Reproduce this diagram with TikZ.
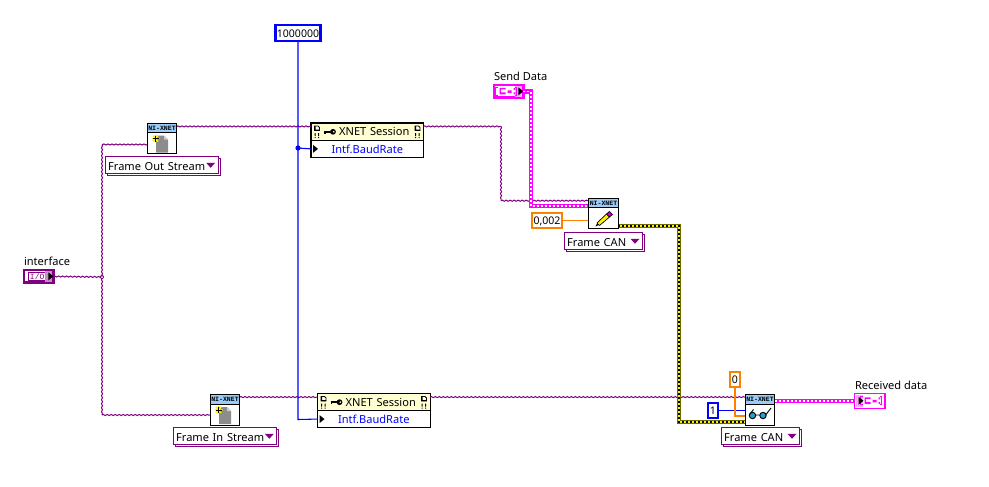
\documentclass[tikz,border=0pt]{standalone}
\usepackage{fontspec}
\setmainfont{Noto Sans}
\newfontfamily\hdrfont{Liberation Mono}
\usetikzlibrary{calc,shadows,decorations.pathmorphing}
\definecolor{lvpurple}{HTML}{800080}
\definecolor{lvpink}{HTML}{FF00FF}
\definecolor{lvblue}{HTML}{0000FF}
\definecolor{lvorange}{HTML}{FF8000}
\definecolor{lvhead}{HTML}{9CCBF5}
\definecolor{lvcream}{HTML}{FFFFD2}
\definecolor{lvolive}{HTML}{6B6B00}
\newcommand{\txtsize}{\fontsize{8.3pt}{10pt}\selectfont}
\tikzset{
  x=0.75pt,y=-0.75pt,
  every node/.style={inner sep=0pt,outer sep=0pt},
  lbl/.style={font=\txtsize,anchor=base west},
  classwire/.style={draw=lvpurple,line width=0.75pt,decorate,decoration={snake,amplitude=0.42pt,segment length=3pt}},
  bluewire/.style={draw=lvblue,line width=0.8pt},
  orangewire/.style={draw=lvorange,line width=0.8pt},
  pinkwire/.style={draw=lvpink,line width=3.4pt,postaction={draw=white,line width=1pt,dash pattern=on 1.5pt off 1.5pt}},
  yellowwire/.style={draw=lvolive,line width=3.6pt,postaction={draw=yellow,line width=2.1pt},postaction={draw=black,line width=1.3pt,dash pattern=on 1.5pt off 1.5pt}},
  vi/.style={draw=black,line width=1pt,fill=white,minimum width=22.2pt,minimum height=22.8pt},
  vihead/.style={draw=none,fill=lvhead,minimum width=21.4pt,minimum height=6.6pt,font=\hdrfont\bfseries\fontsize{4.9pt}{6pt}\selectfont},
  ringbox/.style={draw=lvpurple,line width=0.8pt,fill=white,anchor=north west,font=\txtsize,align=left,inner xsep=2pt,
    copy shadow={shadow xshift=1.5pt,shadow yshift=-1.5pt,draw=lvpurple,fill=white,opacity=1},text height=9.2pt,text depth=0.8pt,inner ysep=1.2pt},
  konst/.style={draw,line width=1.9pt,fill=white,font=\fontsize{7.9pt}{10pt}\selectfont,text height=6.6pt,text depth=0.6pt,anchor=center},
  prophead/.style={draw=black,line width=0.8pt,fill=lvcream,anchor=north west,font=\txtsize,text width=84.4pt,align=center},
  proprow/.style={draw=black,line width=0.8pt,fill=white,anchor=north west,text=lvblue,font=\txtsize,text width=84.4pt,align=center},
  term/.style={draw,line width=2pt,fill=white,anchor=north west},
}
\newcommand{\ringarrow}[1]{\fill[lvpurple] ($(#1.east)+(-12,-2)$) -- ++(9,0) -- ++(-4.5,5) -- cycle;}
\newcommand{\vihdr}[1]{\node[vihead] at ($(#1.north)+(0,4.7)$) {NI-XNET};\draw[black,line width=0.6pt] ($(#1.north west)+(0,9.3)$) -- ($(#1.north east)+(0,9.3)$);}
\newcommand{\pageicon}[1]{\begin{scope}[shift={(#1)}]
  \fill[black!45] (-6,-3) -- (2,-3) -- (6,1) -- (6,14) -- (-6,14) -- cycle;
  \fill[black!20] (2,-3) -- (6,1) -- (2,1) -- cycle;
  \draw[yellow,line width=1.1pt] (-10.5,0) -- (-2.5,0) (-6.5,-4) -- (-6.5,4) (-9,-3) -- (-4,3) (-9,3) -- (-4,-3);
  \draw[black,line width=.5pt] (-9.5,0) -- (-3.5,0) (-6.5,-3) -- (-6.5,3);
\end{scope}}
\newcommand{\docglyph}[1]{\begin{scope}[shift={(#1)}]
  \draw[black,line width=.6pt,fill=white] (-2.5,-3) -- (1,-3) -- (2.5,-1.5) -- (2.5,1.5) -- (-2.5,1.5) -- cycle;
  \fill[black] (-2.5,-3) rectangle (-1.5,1.5) (-2.5,0.5) rectangle (2.5,1.5);
  \fill[black] (-2.5,4) rectangle (-1.3,7) (1,4) rectangle (2.2,7) (-2.5,8) rectangle (-1.3,9) (1,8) rectangle (2.2,9);
\end{scope}}
\newcommand{\keyglyph}[1]{\begin{scope}[shift={(#1)}]
  \draw[black,line width=1.2pt] (-6,0) -- (3,0) (-5,0) -- (-5,2);
  \fill[black] (3,0) circle (2.9);
  \fill[lvcream] (3.8,0) circle (0.9);
\end{scope}}
\newcommand{\clusterglyph}[1]{\begin{scope}[shift={(#1)}]
  \draw[lvpink,line width=.7pt] (-9,-4) -- (-11,-4) -- (-11,4) -- (-9,4) (8,-4) -- (10,-4) -- (10,4) -- (8,4);
  \fill[lvpink] (-7,-3.5) rectangle (-1,-2) (-7,-3.5) rectangle (-5.8,2) (-7,1) rectangle (-1,3)
     (1,-1) rectangle (5,1.5) (7,-3.5) rectangle (8.5,-1.5) (7,1) rectangle (8.5,3);
\end{scope}}
\begin{document}
\begin{tikzpicture}
\useasboundingbox (0,0) rectangle (989,486);
\fill[white] (0,0) rectangle (989,486);

% ---------- function nodes
\node[vi] (outvi) at (162,138.5) {};
\node[vi] (invi) at (225,410) {};
\node[vi] (writevi) at (603.5,213.5) {};
\node[vi] (readvi) at (760,410) {};

% ---------- rings
\node[ringbox,text width=80.5pt] (ringout) at (105.5,156.5) {Frame Out Stream};
\node[ringbox,text width=73.5pt] (ringin) at (173.5,427.5) {Frame In Stream};
\node[ringbox,text width=54.5pt] (ringw) at (564.5,232.5) {Frame CAN};
\node[ringbox,text width=54.5pt] (ringr) at (721.5,427.5) {Frame CAN};

% ---------- property nodes
\node[prophead,minimum height=13.2pt] (p1h) at (311,123) {\hspace*{10.5pt}XNET Session};
\node[proprow,minimum height=12.4pt] (p1r) at (311,140.6) {Intf.BaudRate};
\node[prophead,minimum height=13pt] (p2h) at (317.5,393.5) {\hspace*{10.5pt}XNET Session};
\node[proprow,minimum height=12.4pt] (p2r) at (317.5,410.8) {Intf.BaudRate};

% ---------- terminals
\node[term,draw=lvpurple,minimum width=22pt,minimum height=9.6pt] (iface) at (24,270) {};
\node[term,draw=lvpink,minimum width=22pt,minimum height=9.6pt] (sendt) at (494,85) {};
\node[term,draw=lvpink,line width=1pt,minimum width=22.8pt,minimum height=11pt] (recvt) at (854.5,393.5) {};

% ---------- constants
\node[konst,draw=lvblue,minimum width=34pt,minimum height=12pt] (baud) at (298,33) {1000000};
\node[konst,draw=lvorange,minimum width=22.4pt,minimum height=11.4pt] (tout) at (547,220.5) {0,002};
\node[konst,draw=lvorange,minimum width=7.4pt,minimum height=11.4pt] (tzero) at (735,379.5) {0};
\node[konst,draw=lvblue,minimum width=7.4pt,minimum height=11.4pt] (num) at (713,410.5) {1};

% ---------- labels
\node[lbl] (ifacel) at (24,265) {interface};
\node[lbl] (sendl) at (494,80) {Send Data};
\node[lbl] (recvl) at (855,389) {Received data};

% ---------- port coordinates
\coordinate (bus) at (102,277);
\coordinate (bustop) at (102,144.5);
\coordinate (busbot) at (102,415);
\coordinate (bend) at (501,200.7);
\coordinate (bluejoin) at (298,148);
\coordinate (p1in) at ($(p1h.north west)+(0,3.4)$);
\coordinate (p1out) at ($(p1h.north east)+(0,3.4)$);
\coordinate (p2in) at ($(p2h.north west)+(0,3.6)$);
\coordinate (p2out) at ($(p2h.north east)+(0,3.6)$);

% ---------- class wires
\draw[classwire] (iface.east) -- (bus);
\draw[classwire] (outvi.west |- bustop) -- (bustop);
\draw[classwire] (bustop) -- (busbot);
\draw[classwire] (busbot) -- (invi.west |- busbot);
\draw[classwire] (outvi.east |- p1in) -- (p1in);
\draw[classwire] (invi.east |- p2in) -- (p2in);
\draw[classwire] (p1out) -- (bend |- p1out);
\draw[classwire] (bend |- p1out) -- (bend);
\draw[classwire] (bend) -- (writevi.west |- bend);
\draw[classwire] (p2out) -- (readvi.west |- p2out);
\fill[lvpurple] (bus) circle (2);
\fill[white] (bus) circle (1);

% ---------- data wires
\draw[bluewire] (baud.south) -- (298,419.5) -- (p2r.west);
\draw[bluewire] (bluejoin) -- (p1r.west);
\fill[lvblue] (bluejoin) circle (2.6);
\draw[bluewire] (num.east) -- (readvi.west |- num.east);
\draw[orangewire] (tout.east) -- (writevi.west |- tout.east);
\draw[orangewire] (tzero.south) |- (readvi.west |- 0,416);
\draw[pinkwire] (sendt.east) -| (531,206) -- (writevi.west |- 0,206);
\draw[pinkwire] (readvi.east |- recvt.west) -- (recvt.west);
\draw[yellowwire] (writevi.east |- 0,226) -- (679,226) -- (679,422) -- (readvi.west |- 0,422);

% ---------- redraw function nodes above wires
\node[vi] at (outvi) {};\node[vi] at (invi) {};\node[vi] at (writevi) {};\node[vi] at (readvi) {};
\vihdr{outvi}\vihdr{invi}\vihdr{writevi}\vihdr{readvi}
\pageicon{outvi.center}
\pageicon{invi.center}
\begin{scope}[shift={(writevi.center)}]
  \fill[black] (-8,13) -- (-6,9) -- (-4,11) -- cycle;
  \draw[black,line width=.5pt,fill=yellow] (-6.5,9.5) -- (3,0.5) -- (6,3.5) -- (-4,12) -- cycle;
  \draw[black,line width=.5pt,fill=lvpink!80!black] (3,0.5) -- (6,-2) -- (9,1) -- (6,3.5) -- cycle;
\end{scope}
\begin{scope}[shift={(readvi.center)}]
  \draw[black,line width=.7pt,fill=cyan!70!teal] (-7.5,5.5) circle (3.2);
  \draw[black,line width=.7pt,fill=cyan!70!teal] (3,5.5) circle (3.2);
  \draw[black,line width=.7pt] (-4.3,5) -- (-0.2,5) (-10.5,4.5) -- (-6.5,-0.5) (6,4.5) -- (11,-2);
\end{scope}

% ---------- ring arrows
\ringarrow{ringout}\ringarrow{ringin}\ringarrow{ringw}\ringarrow{ringr}

% ---------- property glyphs
\docglyph{$(p1h.north west)+(6,6)$}\docglyph{$(p1h.north east)+(-6,6)$}
\docglyph{$(p2h.north west)+(6,6)$}\docglyph{$(p2h.north east)+(-6,6)$}
\keyglyph{$(p1h.west)+(19,0)$}\keyglyph{$(p2h.west)+(19,0)$}
\fill[black] ($(p1r.west)+(2,-4)$) -- ++(5,4) -- ++(-5,4) -- cycle;
\fill[black] ($(p2r.west)+(2,-4)$) -- ++(5,4) -- ++(-5,4) -- cycle;

% ---------- terminal faces
\draw[lvpurple,line width=.5pt] ($(iface.north west)+(4,2.4)$) rectangle ($(iface.south east)+(-3,-2.4)$);
\fill[lvpurple!45] ($(iface.north east)+(-8,1)$) rectangle ($(iface.south east)+(-1,-1)$);
\node[font=\hdrfont\fontsize{6pt}{8pt}\selectfont,text=lvpurple] at ($(iface.center)+(-1.5,0)$) {I/O};
\fill[black] ($(iface.east)+(-5,-4)$) -- ++(5,4) -- ++(-5,4) -- cycle;
\fill[lvpink!35] ($(sendt.north east)+(-8,1)$) rectangle ($(sendt.south east)+(-1,-1)$);
\clusterglyph{$(sendt.center)+(-2,0)$}
\fill[black] ($(sendt.east)+(-5,-4)$) -- ++(5,4) -- ++(-5,4) -- cycle;
\fill[lvpink!35] ($(recvt.north west)+(1,1)$) rectangle ($(recvt.south west)+(8,-1)$);
\clusterglyph{$(recvt.center)+(2,0)$}
\fill[black] ($(recvt.west)+(4,-4)$) -- ++(5,4) -- ++(-5,4) -- cycle;
\end{tikzpicture}
\end{document}
